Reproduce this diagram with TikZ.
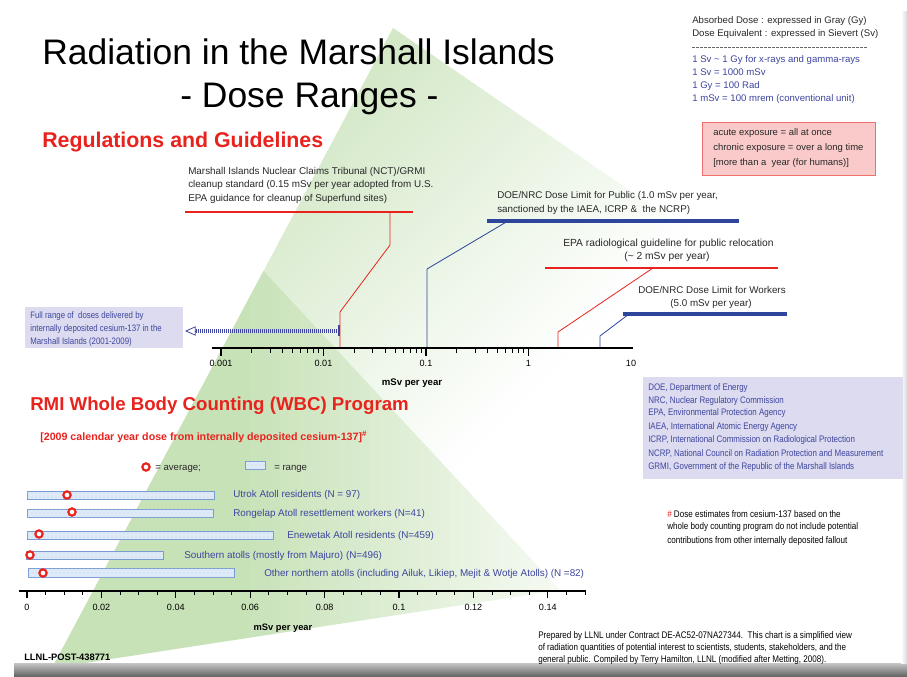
\documentclass[tikz,border=0pt]{standalone}
\usepackage{fontspec}
\setmainfont{Liberation Sans}
\newfontfamily\narrowsf[FakeStretch=0.84]{Liberation Sans}
\usetikzlibrary{arrows.meta,patterns}
\definecolor{redT}{RGB}{232,35,30}
\definecolor{blueT}{RGB}{62,70,158}
\definecolor{blueL}{RGB}{45,70,155}
\definecolor{lav}{RGB}{221,219,240}
\definecolor{pinkF}{RGB}{250,202,202}
\definecolor{pinkD}{RGB}{240,110,110}
\definecolor{barF}{RGB}{222,234,248}
\definecolor{barD}{RGB}{120,155,210}
\definecolor{triG}{RGB}{200,226,184}
\definecolor{darkT}{RGB}{40,40,40}
\newcommand\fsz[1]{\fontsize{#1}{#1}\selectfont}
\begin{document}
\begin{tikzpicture}[x=0.75pt,y=-0.75pt,
  t/.style={inner sep=0pt, anchor=base west},
  tc/.style={inner sep=0pt, anchor=base},
  small/.style={font=\fsz{7.2}, text=darkT},
  note/.style={font=\narrowsf\fsz{7.1}},
  redline/.style={draw=redT, line width=1.6pt},
  blueline/.style={draw=blueL, line width=2.4pt},
  redconn/.style={draw=redT, line width=0.6pt},
  blueconn/.style={draw=blueL, line width=0.6pt},
  bar/.style={draw=barD, line width=0.7pt, fill=barF, postaction={pattern=dots, pattern color=barD!45}},
  avg/.style={draw=redT, line width=1.6pt, fill=white, circle, inner sep=0pt, minimum size=5.5pt},
  tick/.style={draw=black, line width=0.6pt},
  axisline/.style={draw=black, line width=2.2pt},
  wbc/.style={inner sep=0pt, anchor=base west, font=\fsz{7.4}, text=blueT}
]
\useasboundingbox (0,0) rectangle (907,677);
\fill[white] (0,0) rectangle (907,677);
% background pyramid: upper face
\begin{scope}
\clip (393,28) -- (760,280) -- (560,590) -- (52,668) -- cycle;
\fill[triG] (350,-50) -- (-450,750) -- (-900,750) -- (-900,-50) -- cycle;
\foreach \i in {0,...,61} {
  \pgfmathsetmacro\aa{300+10*\i}
  \pgfmathsetmacro\pp{100*(1-\i/62)}
  \fill[triG!\pp!white] (\aa+50,-50) -- (\aa-750,750) -- (\aa-739,750) -- (\aa+61,-50) -- cycle;
}
\end{scope}
% background pyramid: lower-left face
\begin{scope}
\clip (263.5,271) -- (560,590) -- (52,668) -- cycle;
\fill[triG] (0,200) rectangle (240,700);
\foreach \i in {0,...,37} {
  \pgfmathsetmacro\aa{240+10*\i}
  \pgfmathsetmacro\pp{100*(1-\i/38)}
  \fill[triG!\pp!white] (\aa,200) rectangle (\aa+11,700);
}
\end{scope}
% shadows
\shade[top color=gray!45, bottom color=gray!75!black] (14,663) rectangle (907,677);
\shade[left color=white, right color=gray!30] (901,12) rectangle (907,663);

% titles
\node[t, font=\fsz{26.6}] (title1) at (42,65) {Radiation in the Marshall Islands};
\node[t, font=\fsz{26.6}] (title2) at (180,108) {- Dose Ranges -};
\node[t, font=\bfseries\fsz{16}, text=redT] (regs) at (42,148) {Regulations and Guidelines};
\node[t, font=\bfseries\fsz{14}, text=redT] (rmi) at (30,411) {RMI Whole Body Counting (WBC) Program};
\node[t, font=\bfseries\fsz{8}, text=redT] (yr) at (40,440) {[2009 calendar year dose from internally deposited cesium-137]\textsuperscript{\#}};

% top-right legend
\node[t, small] (u1) at (692,23.5) {Absorbed Dose : expressed in Gray (Gy)};
\node[t, small] (u2) at (692,36.5) {Dose Equivalent : expressed in Sievert (Sv)};
\coordinate (dA) at (692,47); \coordinate (dB) at (867,47);
\draw[gray!80!black, line width=0.5pt, dash pattern=on 2.2pt off 0.8pt] (dA) -- (dB);
\node[t, small, text=blueT] (u3) at (692,62.5) {1 Sv \textasciitilde{} 1 Gy for x-rays and gamma-rays};
\node[t, small, text=blueT] (u4) at (692,75.5) {1 Sv = 1000 mSv};
\node[t, small, text=blueT] (u5) at (692,88.5) {1 Gy = 100 Rad};
\node[t, small, text=blueT] (u6) at (692,101.5) {1 mSv = 100 mrem (conventional unit)};

% pink box
\node[draw=pinkD, fill=pinkF, line width=0.8pt, minimum width=173*0.75pt, minimum height=53*0.75pt, anchor=north west, inner sep=0pt] (pink) at (702,122) {};
\node[t, font=\fsz{7.1}, text=darkT] (p1) at (713,136) {acute exposure = all at once};
\node[t, font=\fsz{7.1}, text=darkT] (p2) at (713,151) {chronic exposure = over a long time};
\node[t, font=\fsz{7.1}, text=darkT] (p3) at (713,166) {[more than a\ \ year (for humans)]};

% Marshall Islands label
\node[t, small, font=\fsz{7.4}] (m1) at (188,174.5) {Marshall Islands Nuclear Claims Tribunal (NCT)/GRMI};
\node[t, small, font=\fsz{7.4}] (m2) at (188,188) {cleanup standard (0.15 mSv per year adopted from U.S.};
\node[t, small, font=\fsz{7.4}] (m3) at (188,201.5) {EPA guidance for cleanup of Superfund sites)};
\coordinate (mA) at (185,212); \coordinate (mB) at (413,212);
\draw[redline] (mA) -- (mB);

% DOE public
\node[t, small, font=\fsz{7.35}] (d1) at (497,198.5) {DOE/NRC Dose Limit for Public (1.0 mSv per year,};
\node[t, small, font=\fsz{7.35}] (d2) at (497,212.5) {sanctioned by the IAEA, ICRP \&\ \ the NCRP)};
\coordinate (dpA) at (487,221); \coordinate (dpB) at (739,221);
\draw[blueline] (dpA) -- (dpB);

% EPA relocation
\node[t, small, font=\fsz{7.7}] (e1) at (563,246.5) {EPA radiological guideline for public relocation};
\node[tc, small, font=\fsz{7.7}] (e2) at (667,259.5) {(\textasciitilde{} 2 mSv per year)};
\coordinate (eA) at (545,268); \coordinate (eB) at (778,268);
\draw[redline] (eA) -- (eB);

% DOE workers
\node[t, small, font=\fsz{7.35}] (w1) at (638,293.5) {DOE/NRC Dose Limit for Workers};
\node[tc, small, font=\fsz{7.35}] (w2) at (711,306.5) {(5.0 mSv per year)};
\coordinate (wA) at (623,314); \coordinate (wB) at (787,314);
\draw[blueline] (wA) -- (wB);

% log axis
\coordinate (axA) at (212,348); \coordinate (axB) at (633,348);
\foreach \d in {0,1,2} {
  \foreach \k in {2,...,9} {
    \pgfmathsetmacro\xx{221+102.5*(\d+ln(\k)/ln(10))}
    \draw[tick] (\xx,348) -- (\xx,353);
  }
}
\foreach \d in {0,1,2,3} {
  \pgfmathsetmacro\xx{221+102.5*\d}
  \draw[tick, line width=0.9pt] (\xx,348) -- (\xx,356);
}
\draw[axisline] (axA) -- (axB);
\node[tc, font=\fsz{6.8}] (l1) at (221,367) {0.001};
\node[tc, font=\fsz{6.8}] (l2) at (323.5,367) {0.01};
\node[tc, font=\fsz{6.8}] (l3) at (426,367) {0.1};
\node[tc, font=\fsz{6.8}] (l4) at (528.5,367) {1};
\node[tc, font=\fsz{6.8}] (l5) at (631,367) {10};
\node[tc, font=\bfseries\fsz{7.2}] (lx) at (412,385) {mSv per year};

% connectors to log axis
\coordinate (mC) at (390,212); \coordinate (mD) at (390,245); \coordinate (mE) at (340,312); \coordinate (mF) at (340,347);
\draw[redconn] (mC) -- (mD) -- (mE) -- (mF);
\coordinate (pC) at (508,221); \coordinate (pD) at (427,269); \coordinate (pF) at (427,347);
\draw[blueconn] (pC) -- (pD) -- (pF);
\coordinate (eC) at (653,268); \coordinate (eD) at (558,332); \coordinate (eF) at (558,347);
\draw[redconn] (eC) -- (eD) -- (eF);
\coordinate (wC) at (629,314); \coordinate (wD) at (600,336); \coordinate (wF) at (600,347);
\draw[blueconn] (wC) -- (wD) -- (wF);

% left box and dotted arrow
\node[fill=lav, minimum width=158*0.75pt, minimum height=41*0.75pt, anchor=north west, inner sep=0pt] (lbox) at (25,307) {};
\node[t, note, text=blueT, font=\narrowsf\fsz{7}] (b1) at (30,318.5) {Full range of\ \ doses delivered by};
\node[t, note, text=blueT, font=\narrowsf\fsz{7}] (b2) at (30,331.5) {internally deposited cesium-137 in the};
\node[t, note, text=blueT, font=\narrowsf\fsz{7}] (b3) at (30,344.5) {Marshall Islands (2001-2009)};
\coordinate (arA) at (339,331); \coordinate (arB) at (185,331); \coordinate (arC) at (195,331);
\draw[blueT, line width=2.4pt, dash pattern=on 0.6pt off 0.9pt] (arA) -- (arC);
\draw[blueT, line width=0.6pt, -{Triangle[open, length=8pt, width=7pt]}] (arC) -- (arB);
\draw[blueT, line width=0.8pt] (339,325) -- (339,336);

% abbreviations box
\node[fill=lav, minimum width=260*0.75pt, minimum height=102*0.75pt, anchor=north west, inner sep=0pt] (abox) at (643,377) {};
\node[t, note, text=blueT] (a1) at (648,390) {DOE, Department of Energy};
\node[t, note, text=blueT] (a2) at (648,403) {NRC, Nuclear Regulatory Commission};
\node[t, note, text=blueT] (a3) at (648,416) {EPA, Environmental Protection Agency};
\node[t, note, text=blueT] (a4) at (648,429) {IAEA, International Atomic Energy Agency};
\node[t, note, text=blueT] (a5) at (648,442) {ICRP, International Commission on Radiological Protection};
\node[t, note, text=blueT] (a6) at (648,456) {NCRP, National Council on Radiation Protection and Measurement};
\node[t, note, text=blueT] (a7) at (648,469) {GRMI, Government of the Republic of the Marshall Islands};

% footnote
\node[t, note, font=\narrowsf\fsz{7.2}] (f1) at (667,517) {\textcolor{redT}{\#} Dose estimates from cesium-137 based on the};
\node[t, note, font=\narrowsf\fsz{7.2}] (f2) at (667,529.5) {whole body counting program do not include potential};
\node[t, note, font=\narrowsf\fsz{7.2}] (f3) at (667,543) {contributions from other internally deposited fallout};

% WBC legend
\node[avg] (lgavg) at (146,467) {};
\node[t, small] (lgavgt) at (155,470) {= average;};
\node[bar, minimum width=20*0.75pt, minimum height=8*0.75pt, inner sep=0pt] (lgbar) at (255,465) {};
\node[t, small] (lgbart) at (274,470) {= range};

% bars
\draw[bar] (27,491) rectangle (214,499);
\draw[bar] (27,509) rectangle (213,517);
\draw[bar] (27,531) rectangle (273,539);
\draw[bar] (26,551) rectangle (163,559);
\draw[bar] (28,568) rectangle (234,577);
\node[avg] (av1) at (67,495) {};
\node[avg] (av2) at (72,512) {};
\node[avg] (av3) at (39,534) {};
\node[avg] (av4) at (30,555) {};
\node[avg] (av5) at (43,573) {};
\node[wbc] (g1) at (233,497.5) {Utrok Atoll residents (N = 97)};
\node[wbc] (g2) at (233,516.5) {Rongelap Atoll resettlement workers (N=41)};
\node[wbc] (g3) at (287,538) {Enewetak Atoll residents (N=459)};
\node[wbc] (g4) at (184,558) {Southern atolls (mostly from Majuro) (N=496)};
\node[wbc] (g5) at (264,576) {Other northern atolls (including Ailuk, Likiep, Mejit \& Wotje Atolls) (N =82)};

% linear axis
\coordinate (bxA) at (19,591); \coordinate (bxB) at (586,591);
\foreach \i in {0,...,30} {
  \pgfmathsetmacro\xx{27+18.6*\i}
  \draw[tick] (\xx,591) -- (\xx,595);
}
\foreach \i in {0,...,7} {
  \pgfmathsetmacro\xx{27+74.4*\i}
  \draw[tick, line width=0.9pt] (\xx,591) -- (\xx,598);
}
\draw[axisline] (bxA) -- (bxB);
\node[tc, font=\fsz{6.8}] (k0) at (27,610) {0};
\node[tc, font=\fsz{6.8}] (k1) at (101.4,610) {0.02};
\node[tc, font=\fsz{6.8}] (k2) at (175.8,610) {0.04};
\node[tc, font=\fsz{6.8}] (k3) at (250.2,610) {0.06};
\node[tc, font=\fsz{6.8}] (k4) at (324.6,610) {0.08};
\node[tc, font=\fsz{6.8}] (k5) at (399,610) {0.1};
\node[tc, font=\fsz{6.8}] (k6) at (473.4,610) {0.12};
\node[tc, font=\fsz{6.8}] (k7) at (547.8,610) {0.14};
\node[tc, font=\bfseries\fsz{7}] (kx) at (283,630) {mSv per year};

% bottom texts
\node[t, font=\bfseries\fsz{7}] (llnl) at (24,660) {LLNL-POST-438771};
\node[t, note, font=\narrowsf\fsz{7.2}] (pr1) at (538,638) {Prepared by LLNL under Contract DE-AC52-07NA27344.\ \ This chart is a simplified view};
\node[t, note, font=\narrowsf\fsz{7.2}] (pr2) at (538,650) {of radiation quantities of potential interest to scientists, students, stakeholders, and the};
\node[t, note, font=\narrowsf\fsz{7.2}] (pr3) at (538,662) {general public. Compiled by Terry Hamilton, LLNL (modified after Metting, 2008).};
\end{tikzpicture}
\end{document}
